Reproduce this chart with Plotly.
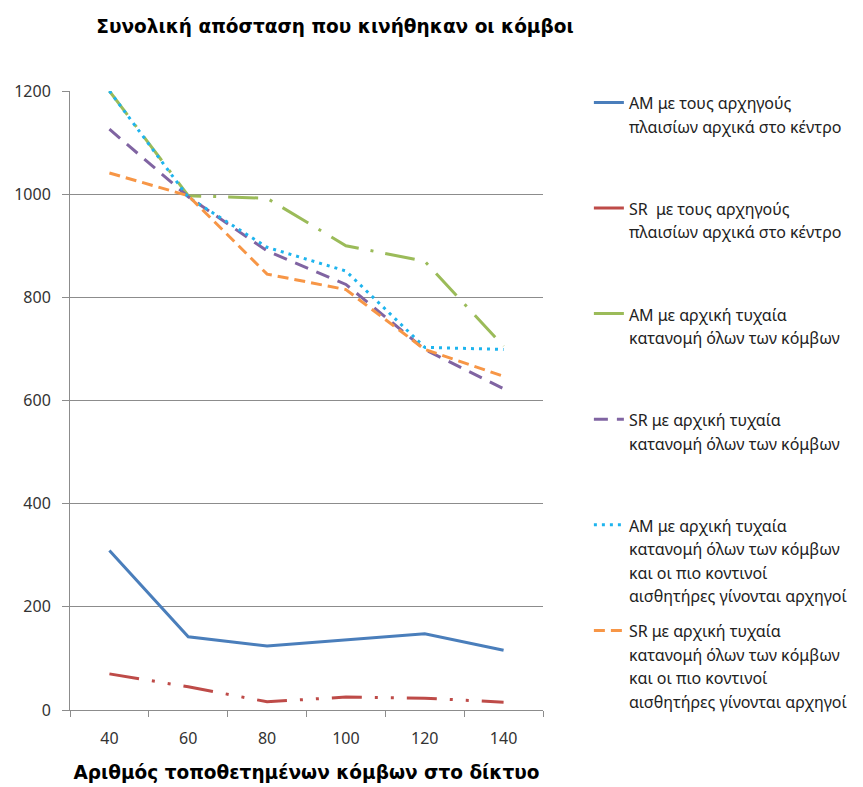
import plotly.graph_objects as go

categories = ["40", "60", "80", "100", "120", "140"]

am_center = [309, 142, 124, 136, 148, 116]
sr_center = [70, 45, 16, 25, 23, 15]
am_random = [1200, 997, 992, 900, 870, 705]
sr_random = [1126, 995, 890, 825, 699, 623]
am_random_near = [1200, 994, 897, 851, 703, 699]
sr_random_near = [1041, 997, 845, 815, 699, 647]

series_names = [
    ["AM με τους αρχηγούς", "πλαισίων αρχικά στο κέντρο"],
    ["SR  με τους αρχηγούς", "πλαισίων αρχικά στο κέντρο"],
    ["AM με αρχική τυχαία", "κατανομή όλων των κόμβων"],
    ["SR με αρχική τυχαία", "κατανομή όλων των κόμβων"],
    ["AM με αρχική τυχαία", "κατανομή όλων των κόμβων", "και οι πιο κοντινοί", "αισθητήρες γίνονται αρχηγοί"],
    ["SR με αρχική τυχαία", "κατανομή όλων των κόμβων", "και οι πιο κοντινοί", "αισθητήρες γίνονται αρχηγοί"],
]
series_values = [am_center, sr_center, am_random, sr_random, am_random_near, sr_random_near]
colors = ["#4A7EBB", "#BE4B48", "#9BBB59", "#8064A2", "#1EB4EE", "#F79646"]
dashes = ["solid", "30px,13px,3px,13px,3px,13px", "30px,12px,3px,12px", "14px,9px", "3px,5px", "11px,6px"]

def legend_label(lines):
    padded = list(lines) + [" "] * (4 - len(lines))
    return "<br>".join('<span style="font-size:16px">%s</span>' % l for l in padded)

fig = go.Figure()
for i, (name, vals, col, dsh) in enumerate(zip(series_names, series_values, colors, dashes)):
    fig.add_trace(go.Scatter(
        x=categories, y=vals, mode="lines", name=legend_label(name),
        legendgroup="g%d" % i,
        line=dict(color=col, width=3, dash=dsh),
    ))

grid_col = "#8C8C8C"
W, H = 855, 779  # page adds an 8px body margin
fig.update_layout(
    width=W, height=H,
    margin=dict(l=62, r=320, t=83, b=77, autoexpand=False),
    paper_bgcolor="white", plot_bgcolor="white",
    title=dict(
        text="<b>Συνολική απόσταση που κινήθηκαν οι κόμβοι</b>",
        font=dict(family="DejaVu Sans", size=18.5, color="#000000"),
        x=327 / W, xanchor="center", xref="container",
        y=1 - 19 / H, yanchor="middle", yref="container",
    ),
    legend=dict(
        x=1.097, xanchor="left", y=1.011, yanchor="top",
        font=dict(family="Noto Sans", size=18, color="#222222"),
        valign="top", tracegroupgap=9, itemwidth=30, maxheight=770,
        bgcolor="rgba(0,0,0,0)",
    ),
    xaxis=dict(
        type="category", range=[-0.5, 5.5], tickson="boundaries", ticks="outside", ticklen=6,
        tickcolor=grid_col, showline=True, linecolor=grid_col, linewidth=1,
        showgrid=False, ticklabelstandoff=14, automargin=False,
        tickfont=dict(family="Noto Sans", size=16, color="#333333"),
        title=dict(text="<b>Αριθμός τοποθετημένων κόμβων στο δίκτυο</b>",
                   font=dict(family="DejaVu Sans", size=18.5, color="#000000"), standoff=17),
    ),
    yaxis=dict(
        range=[0, 1200], tickvals=[0, 200, 400, 600, 800, 1000, 1200],
        ticks="outside", ticklen=7, tickcolor=grid_col, automargin=False,
        showline=True, linecolor=grid_col, linewidth=1, ticklabelstandoff=8,
        showgrid=True, gridcolor=grid_col, gridwidth=1, zeroline=False,
        tickfont=dict(family="Noto Sans", size=16, color="#333333"),
    ),
)

fig.write_html("out.html")
